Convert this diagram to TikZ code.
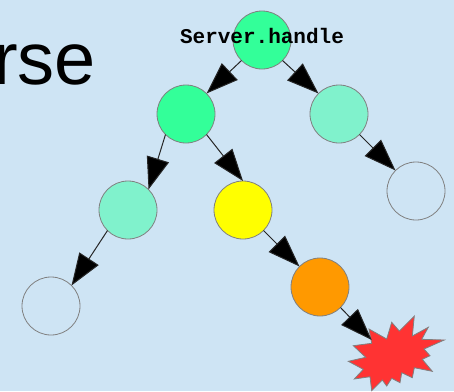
\documentclass[tikz,border=0pt]{standalone}
\usepackage{fontspec}
\setmainfont{Liberation Sans}
\setmonofont{Liberation Mono}
\usetikzlibrary{arrows.meta}
\definecolor{bgc}{HTML}{CEE4F4}
\definecolor{hot}{HTML}{33FF99}
\definecolor{warm}{HTML}{80F2CC}
\definecolor{amber}{HTML}{FF9900}
\definecolor{sun}{HTML}{FFFF00}
\definecolor{burstc}{HTML}{FF3333}
\definecolor{edgec}{HTML}{808080}
\tikzset{
  x=1pt,y=-1pt,
  tn/.style={circle,draw=edgec,line width=0.8pt,minimum size=58pt,inner sep=0pt,outer sep=0pt},
  conn/.style={draw=black!85,line width=1pt,-{Triangle[length=32pt,width=23pt,fill=black]}},
}
\begin{document}
\begin{tikzpicture}
\useasboundingbox (0,0) rectangle (454,391);
\fill[bgc] (0,0) rectangle (454,391);
\begin{scope}
\clip (0,0) rectangle (454,391);
\node[anchor=base west,inner sep=0pt,font=\fontsize{74pt}{74pt}\selectfont] (title) at (-7,84) {rse};
\end{scope}
\node[tn,fill=hot] (a) at (262,40) {};
\node[tn,fill=hot] (b) at (186,114) {};
\node[tn,fill=warm] (c) at (339,114) {};
\node[tn,fill=warm] (d) at (128,210) {};
\node[tn,fill=sun] (e) at (243,210) {};
\node[tn,fill=none] (f) at (416,191) {};
\node[tn,fill=none] (g) at (51,306) {};
\node[tn,fill=amber] (h) at (320,287) {};
\draw[draw=edgec,fill=burstc,line width=0.8pt]
 (369,329) -- (386.7,339) -- (391.7,322.3) -- (399.3,331) -- (414.3,316) -- (412.3,336) -- (428.3,327.3) -- (421.7,339.3) -- (444.3,340) -- (424,349) -- (430,355.7) -- (422.3,359.3) -- (432.3,371.3) -- (414.3,367.7) -- (412.3,377.7) -- (401.7,372.7) -- (400,382.7) -- (391.7,378.3) -- (386.7,386) -- (382.3,380) -- (371.7,390.7) -- (370,376.7) -- (354.3,379) -- (363.3,369.3) -- (348.3,361.3) -- (365.7,357.3) -- (353.3,345.7) -- (371.7,343.3) -- cycle;
\coordinate (bursttip) at (371.7,340);
\draw[conn] (a.225) -- (b.45);
\draw[conn] (a.315) -- (c.135);
\draw[conn] (b.225) -- (d.45);
\draw[conn] (b.315) -- (e.90);
\draw[conn] (c.315) -- (f.135);
\draw[conn] (d.225) -- (g.45);
\draw[conn] (e.315) -- (h.135);
\draw[conn] (h.315) -- (bursttip);
\node[anchor=base,inner sep=0pt,font=\ttfamily\bfseries\fontsize{21pt}{21pt}\selectfont] (lab) at (262,43) {Server.handle};
\end{tikzpicture}
\end{document}
